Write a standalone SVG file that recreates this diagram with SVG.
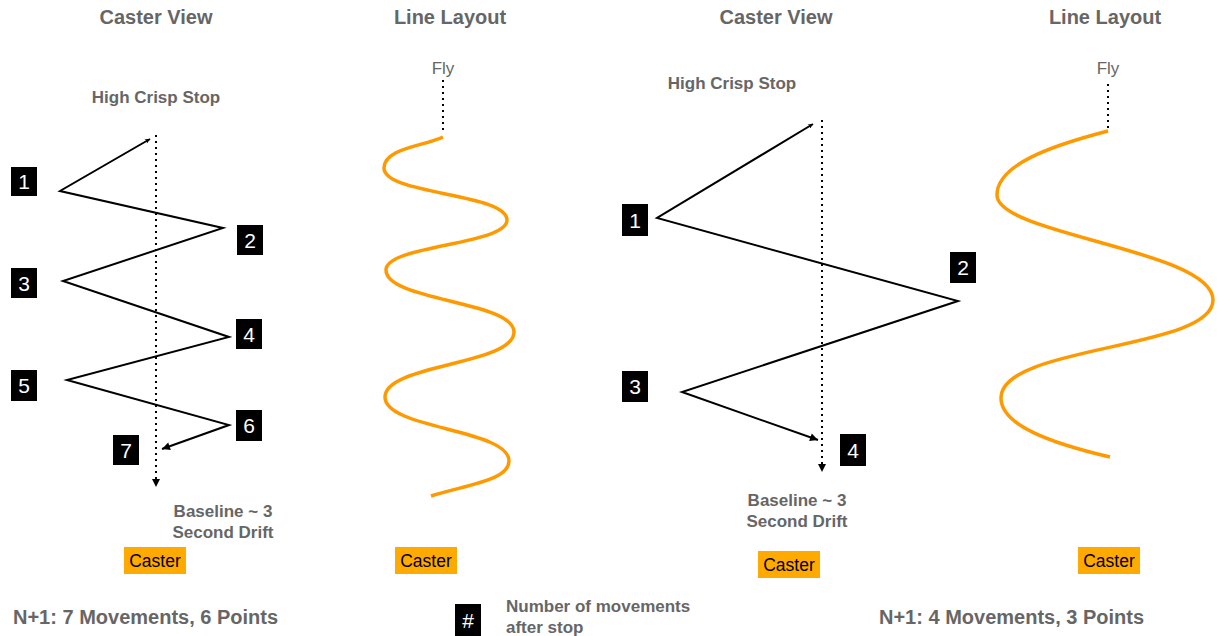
<svg xmlns="http://www.w3.org/2000/svg" width="1222" height="636" viewBox="0 0 1222 636">
<style>
  .title{font-family:"Liberation Sans",Arial,sans-serif;font-size:20px;font-weight:bold;fill:#666;text-anchor:middle}
  .sub{font-family:"Liberation Sans",Arial,sans-serif;font-size:17px;font-weight:bold;fill:#666;text-anchor:middle}
  .fly{font-family:"Liberation Sans",Arial,sans-serif;font-size:17px;fill:#666;text-anchor:middle}
  .foot{font-family:"Liberation Sans",Arial,sans-serif;font-size:20px;font-weight:bold;fill:#666}
  .legend{font-family:"Liberation Sans",Arial,sans-serif;font-size:17px;font-weight:bold;fill:#666}
  .num{fill:#000}
  .numt{font-family:"Liberation Sans",Arial,sans-serif;font-size:21px;fill:#fff;text-anchor:middle}
  .cbox{fill:#FFAA00}
  .ctxt{font-family:"Liberation Sans",Arial,sans-serif;font-size:17.5px;fill:#000;text-anchor:middle}
  .zig{fill:none;stroke:#000;stroke-width:2;stroke-linejoin:miter}
  .dot{fill:none;stroke:#000;stroke-width:2;stroke-dasharray:2 4}
  .wave{fill:none;stroke:#FF9900;stroke-width:3.5}
</style>
<defs>
  <marker id="arr" viewBox="0 0 10 10" refX="10" refY="5" markerUnits="userSpaceOnUse" markerWidth="9" markerHeight="8" orient="auto-start-reverse">
    <path d="M0,0 L10,5 L0,10 z" fill="#000"/>
  </marker>
  <marker id="arrs" viewBox="0 0 10 10" refX="10" refY="5" markerUnits="userSpaceOnUse" markerWidth="6" markerHeight="5" orient="auto-start-reverse">
    <path d="M0,0 L10,5 L0,10 L3,5 z" fill="#000"/>
  </marker>
</defs>

<g id="titles">
  <text class="title" x="156" y="24">Caster View</text>
  <text class="title" x="450" y="24">Line Layout</text>
  <text class="title" x="776" y="24">Caster View</text>
  <text class="title" x="1105" y="24">Line Layout</text>
</g>

<g id="labels">
  <text class="sub" x="156" y="103">High Crisp Stop</text>
  <text class="sub" x="732" y="89">High Crisp Stop</text>
  <text class="fly" x="443" y="74">Fly</text>
  <text class="fly" x="1108" y="74">Fly</text>
  <text class="sub" x="223" y="517">Baseline ~ 3</text>
  <text class="sub" x="223" y="538">Second Drift</text>
  <text class="sub" x="797" y="506">Baseline ~ 3</text>
  <text class="sub" x="797" y="527">Second Drift</text>
</g>

<g id="connectors">
  <path class="dot" d="M156,135 L156,487" marker-end="url(#arr)"/>
  <path class="dot" d="M822,120 L822,472" marker-end="url(#arr)"/>
  <path class="dot" d="M443,80 L443,134"/>
  <path class="dot" d="M1108,84 L1108,128"/>
  <polyline class="zig" points="150,139 60,191 223,228 63,281 229,337 67,380 229,425 162,449" marker-start="url(#arrs)" marker-end="url(#arr)"/>
  <polyline class="zig" points="813,124 657,218 958,301 682,392 818,440" marker-start="url(#arrs)" marker-end="url(#arr)"/>
</g>

<g id="wave-left">
  <path class="wave" d="M443,137 C425,146 384,148 384,168 C384,195 507,193 507,220 C507,245 386,245 386,270 C386,301 514,301 514,332 C514,365 385,364 385,397 C385,429 509,429 509,461 C509,480 470,484 431,496"/>
</g>
<g id="wave-right">
  <path class="wave" d="M1108,131 C1050,146 997,165 997,195 C997,235 1213,250 1213,300 C1213,350 1001,345 1001,398 C1001,425 1050,443 1110,457"/>
</g>

<g id="n1"><rect class="num" x="11" y="167" width="26" height="29"/><text class="numt" x="24" y="189">1</text></g>
<g id="n2"><rect class="num" x="237" y="225" width="26" height="30"/><text class="numt" x="250" y="248">2</text></g>
<g id="n3"><rect class="num" x="11" y="268" width="26" height="30"/><text class="numt" x="24" y="291">3</text></g>
<g id="n4"><rect class="num" x="236" y="319" width="26" height="30"/><text class="numt" x="249" y="342">4</text></g>
<g id="n5"><rect class="num" x="11" y="370" width="26" height="31"/><text class="numt" x="24" y="393">5</text></g>
<g id="n6"><rect class="num" x="236" y="410" width="26" height="31"/><text class="numt" x="249" y="433">6</text></g>
<g id="n7"><rect class="num" x="113" y="435" width="26" height="30"/><text class="numt" x="126" y="458">7</text></g>

<g id="r1"><rect class="num" x="622" y="204" width="26" height="32"/><text class="numt" x="635" y="228">1</text></g>
<g id="r2"><rect class="num" x="950" y="252" width="26" height="31"/><text class="numt" x="963" y="275">2</text></g>
<g id="r3"><rect class="num" x="622" y="371" width="26" height="31"/><text class="numt" x="635" y="394">3</text></g>
<g id="r4"><rect class="num" x="840" y="434" width="26" height="32"/><text class="numt" x="853" y="458">4</text></g>

<g id="caster1"><rect class="cbox" x="124" y="547" width="62" height="27"/><text class="ctxt" x="155" y="567">Caster</text></g>
<g id="caster2"><rect class="cbox" x="395" y="547" width="62" height="27"/><text class="ctxt" x="426" y="567">Caster</text></g>
<g id="caster3"><rect class="cbox" x="758" y="551" width="62" height="27"/><text class="ctxt" x="789" y="571">Caster</text></g>
<g id="caster4"><rect class="cbox" x="1078" y="547" width="62" height="27"/><text class="ctxt" x="1109" y="567">Caster</text></g>

<g id="footer">
  <text class="foot" x="13" y="624">N+1: 7 Movements, 6 Points</text>
  <text class="foot" x="879" y="624">N+1: 4 Movements, 3 Points</text>
</g>

<g id="legend">
  <rect class="num" x="455" y="604" width="26" height="32"/>
  <text class="numt" x="468" y="628">#</text>
  <text class="legend" x="506" y="612">Number of movements</text>
  <text class="legend" x="506" y="633">after stop</text>
</g>
</svg>
